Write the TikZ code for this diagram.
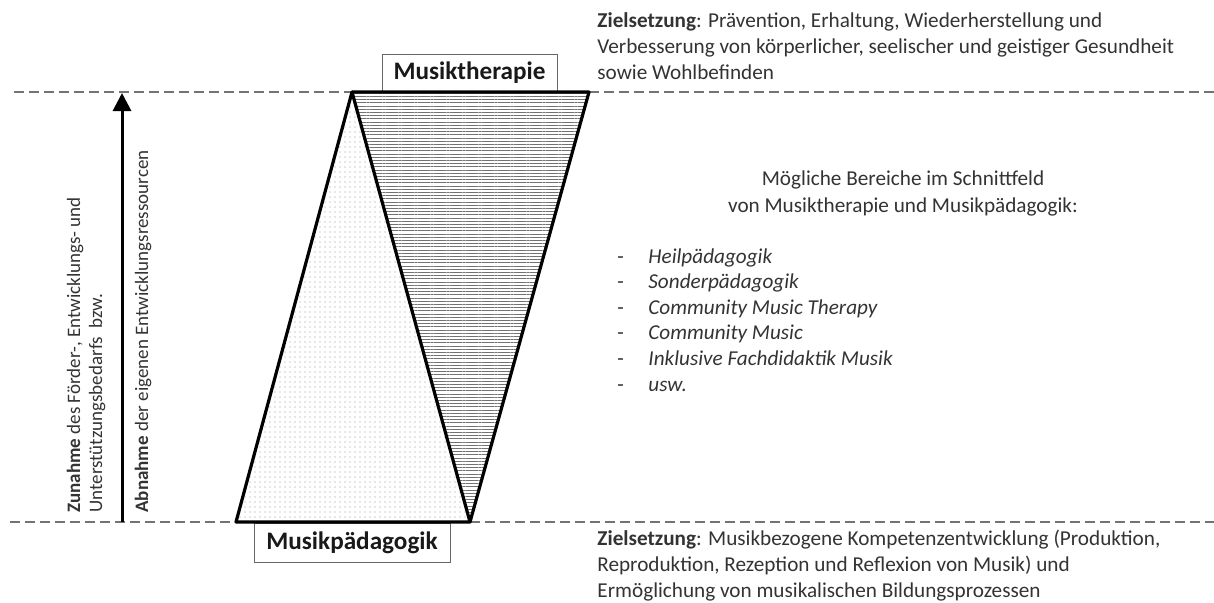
\documentclass[tikz,border=0pt]{standalone}
\usepackage{fontspec}
\setmainfont{Carlito}
\usetikzlibrary{arrows.meta,patterns.meta}

\begin{document}
\begin{tikzpicture}[x=0.5pt,y=-0.5pt,
    every node/.style={font=\fontsize{10.6}{13}\selectfont,text=black!80,inner sep=0pt},
    fieldbox/.style={draw=black!60,line width=0.5pt,font=\fontsize{12.6}{14}\selectfont\bfseries,text=black!90},
    sepline/.style={dash pattern=on 5pt off 2.5pt,black!55,line width=0.8pt},
    edge/.style={line width=1.6pt,line join=round},
    sidetext/.style={rotate=90,anchor=west,align=left,font=\fontsize{9.5}{11}\selectfont}]
    \useasboundingbox (0,0) rectangle (1214,602);
    % eckpunkte
    \coordinate (apex) at (352,92);
    \coordinate (topR) at (589,92);
    \coordinate (baseL) at (236,522);
    \coordinate (baseR) at (470,522);
    \coordinate (leftT) at (14,92);
    \coordinate (rightT) at (1214,92);
    \coordinate (leftB) at (10,522);
    \coordinate (rightB) at (1214,522);
    \coordinate (arrowS) at (122,522);
    \coordinate (arrowE) at (122,93);
    % kaesten
    \node[fieldbox,minimum width=87.5pt,minimum height=19pt] (therapie) at (469.5,73) {Musiktherapie};
    \node[fieldbox,minimum width=98pt,minimum height=19.5pt] (paedagogik) at (352,542.5) {Musikpädagogik};
    % trennlinien
    \draw[sepline] (leftT) -- (apex);
    \draw[sepline] (topR) -- (rightT);
    \draw[sepline] (leftB) -- (baseL);
    \draw[sepline] (baseR) -- (rightB);
    % flaechen
    \fill[pattern={Dots[distance=2.5pt,radius=0.3pt]},pattern color=black!40] (apex) -- (baseL) -- (baseR) -- cycle;
    \fill[pattern={Lines[angle=0,distance=1.6pt,line width=0.35pt]},pattern color=black!55] (apex) -- (topR) -- (baseR) -- cycle;
    \draw[edge] (apex) -- (baseL) -- (baseR) -- cycle;
    \draw[edge] (apex) -- (topR) -- (baseR);
    % pfeil
    \draw[line width=1.5pt,-{Triangle[length=9pt,width=9pt]}] (arrowS) -- (arrowE);
    \node[sidetext] (zunahme) at (86,513) {\textbf{Zunahme} des Förder-, Entwicklungs- und\\Unterstützungsbedarfs\ \ bzw.};
    \node[sidetext] (abnahme) at (143,513) {\textbf{Abnahme} der eigenen Entwicklungsressourcen};
    % texte rechts
    \node[anchor=north west,align=left] (zielT) at (597,12) {\textbf{Zielsetzung}: Prävention, Erhaltung, Wiederherstellung und\\Verbesserung von körperlicher, seelischer und geistiger Gesundheit\\sowie Wohlbefinden};
    \node[anchor=north west,align=left] (zielB) at (597,530) {\textbf{Zielsetzung}: Musikbezogene Kompetenzentwicklung (Produktion,\\Reproduktion, Rezeption und Reflexion von Musik) und\\Ermöglichung von musikalischen Bildungsprozessen};
    \node[anchor=north,align=center,font=\fontsize{10.6}{13.5}\selectfont] (bereiche) at (903,170) {Mögliche Bereiche im Schnittfeld\\von Musiktherapie und Musikpädagogik:};
    \foreach \bereich [count=\i] in {Heilpädagogik,Sonderpädagogik,Community Music Therapy,Community Music,Inklusive Fachdidaktik Musik,usw.} {
        \node[anchor=base west] (strich\i) at (617,{263+25.6*(\i-1)}) {-};
        \node[anchor=base west] (bereich\i) at (648,{263+25.6*(\i-1)}) {\textit{\bereich}};
    }
\end{tikzpicture}
\end{document}
